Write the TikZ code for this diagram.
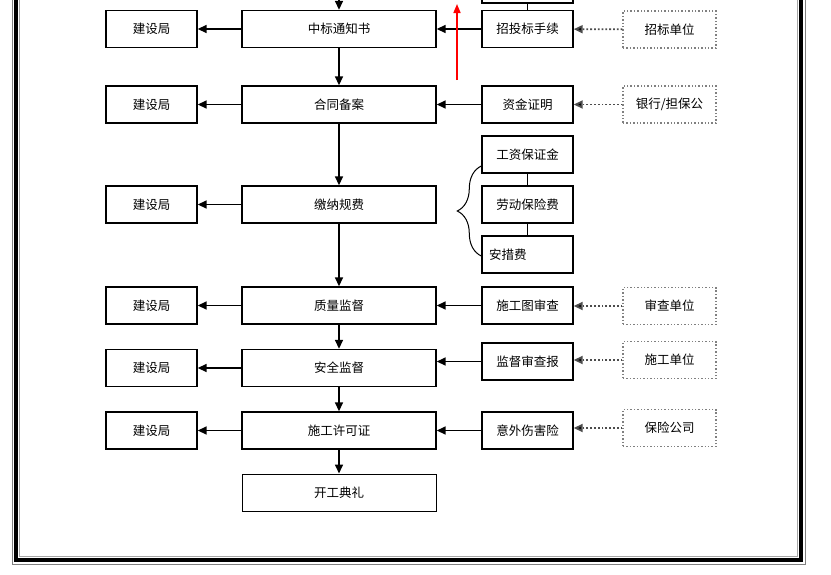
\documentclass[tikz,border=0pt]{standalone}
\usepackage{fontspec}
\setmainfont{Noto Sans CJK SC}
\usetikzlibrary{arrows.meta}
\usetikzlibrary{decorations.pathreplacing}

\begin{document}
\begin{tikzpicture}[x=1pt,y=-1pt,
    box/.style={draw,line width=1.4pt,minimum height=37pt,inner sep=0pt,
      font=\fontsize{12.5}{14}\selectfont},
    jsj/.style={box,minimum width=91pt},
    mid/.style={box,minimum width=194pt},
    side/.style={box,minimum width=91pt},
    unit/.style={box,draw=gray,dotted,line width=1.2pt,minimum width=93pt},
    arr/.style={line width=1.6pt,-{Triangle[length=9pt,width=8pt]}},
    darr/.style={dotted,line width=1.8pt,gray!60!black,
      -{Triangle[length=9pt,width=8pt,fill=black]}}
  ]
  \useasboundingbox (0,0) rectangle (831,574);
  \clip (0,0) rectangle (831,574);

  \draw[gray,line width=1pt] (12,-10) -- (12,564) -- (805,564) -- (805,-10);
  \draw[line width=4pt] (15.5,-10) -- (15.5,560) -- (801,560) -- (801,-10);
  \draw[gray!70,line width=0.8pt] (19,-10) -- (19,556.5) -- (797.5,556.5) -- (797.5,-10);

  % middle column
  \node[mid] (zb) at (339,29) {中标通知书};
  \node[mid] (ht) at (339,104.5) {合同备案};
  \node[mid] (jn) at (339,204.5) {缴纳规费};
  \node[mid] (zl) at (339,305.5) {质量监督};
  \node[mid] (aq) at (339,368) {安全监督};
  \node[mid] (sg) at (339,430.5) {施工许可证};
  \node[mid,line width=1pt] (kg) at (339,492.5) {开工典礼};

  % left column
  \node[jsj] (j1) at (151.5,29) {建设局};
  \node[jsj] (j2) at (151.5,104.5) {建设局};
  \node[jsj] (j3) at (151.5,204.5) {建设局};
  \node[jsj] (j4) at (151.5,305.5) {建设局};
  \node[jsj] (j5) at (151.5,368) {建设局};
  \node[jsj] (j6) at (151.5,430.5) {建设局};

  % right column
  \node[side,minimum height=40pt] (top) at (527.5,-17) {};
  \node[side] (zt) at (527.5,29) {招投标手续};
  \node[side] (zj) at (527.5,104.5) {资金证明};
  \node[side] (gz) at (527.5,154.5) {工资保证金};
  \node[side] (ld) at (527.5,204.5) {劳动保险费};
  \node[side,text width=77pt,align=left] (ac) at (527.5,254.5) {安措费};
  \node[side] (st) at (527.5,305.5) {施工图审查};
  \node[side] (jd) at (527.5,361.5) {监督审查报};
  \node[side] (yw) at (527.5,430.5) {意外伤害险};

  % units
  \node[unit] (u1) at (669.5,29.5) {招标单位};
  \node[unit] (u2) at (669.5,104.5) {银行/担保公};
  \node[unit] (u3) at (669.5,306) {审查单位};
  \node[unit] (u4) at (669.5,360) {施工单位};
  \node[unit] (u5) at (669.5,428) {保险公司};

  \coordinate (in) at (339,-10);
  \draw[arr] (in) -- (zb.north);
  \draw[arr] (zb) -- (ht);
  \draw[arr] (ht) -- (jn);
  \draw[arr] (jn) -- (zl);
  \draw[arr] (zl) -- (aq);
  \draw[arr] (aq) -- (sg);
  \draw[arr] (sg) -- (kg);

  \foreach \m/\j in {zb/j1,ht/j2,jn/j3,zl/j4,aq/j5,sg/j6}
    \draw[arr] (\m) -- (\j);

  \draw[arr] (zt) -- (zb);
  \draw[arr] (zj) -- (ht);
  \draw[arr] (st) -- (zl);
  \draw[arr] (jd.west) -- (jd.west -| aq.east);
  \draw[arr] (yw) -- (sg);

  \draw[darr] (u1) -- (zt);
  \draw[darr] (u2) -- (zj);
  \draw[darr] (u3.west) -- (u3.west -| st.east);
  \draw[darr] (u4.west) -- (u4.west -| jd.east);
  \draw[darr] (u5.west) -- (u5.west -| yw.east);

  \draw[line width=1pt] (top) -- (zt);
  \draw[line width=1pt] (gz) -- (ld);
  \draw[line width=1pt] (ld) -- (ac);

  \draw[line width=1pt,decorate,decoration={brace,amplitude=24pt}]
    (ac.west |- 0,256) -- (gz.west |- 0,166);

  \coordinate (ra) at (457,80);
  \coordinate (rb) at (457,4);
  \draw[red,line width=1.6pt,-{Triangle[length=9pt,width=7pt]}] (ra) -- (rb);
\end{tikzpicture}
\end{document}
